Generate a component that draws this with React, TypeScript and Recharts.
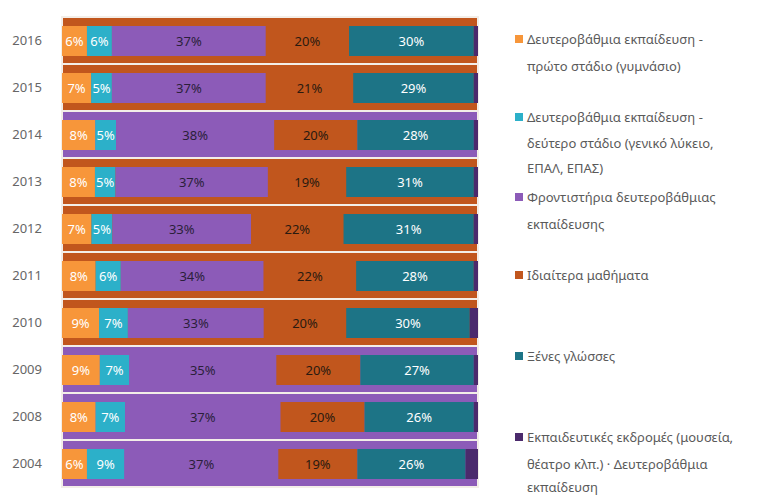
import React from 'react';
import { BarChart, Bar, XAxis, YAxis, ReferenceArea, LabelList } from 'recharts';

const years = ['2016', '2015', '2014', '2013', '2012', '2011', '2010', '2009', '2008', '2004'];
const lowerSecondary = [6, 7, 8, 8, 7, 8, 9, 9, 8, 6];
const upperSecondary = [6, 5, 5, 5, 5, 6, 7, 7, 7, 9];
const tutoring = [37, 37, 38, 37, 33, 34, 33, 35, 37, 37];
const privateLessons = [20, 21, 20, 19, 22, 22, 20, 20, 20, 19];
const languages = [30, 29, 28, 31, 31, 28, 30, 27, 26, 26];
const excursions = [1, 1, 1, 1, 1, 1, 2, 1, 1, 3];

const seriesNames = [
  'Δευτεροβάθμια εκπαίδευση - πρώτο στάδιο (γυμνάσιο)',
  'Δευτεροβάθμια εκπαίδευση - δεύτερο στάδιο (γενικό λύκειο, ΕΠΑΛ, ΕΠΑΣ)',
  'Φροντιστήρια δευτεροβάθμιας εκπαίδευσης',
  'Ιδιαίτερα μαθήματα',
  'Ξένες γλώσσες',
  'Εκπαιδευτικές εκδρομές (μουσεία, θέατρο κλπ.) · Δευτεροβάθμια εκπαίδευση',
];

const ORANGE = '#f7963a';
const CYAN = '#2cb0c9';
const PURPLE = '#8c5bb8';
const BROWN = '#c1561d';
const TEAL = '#1d7486';
const PLUM = '#4b2a6c';

// row backing tone (brown or purple) as it appears behind each bar
const rowTone = [BROWN, BROWN, PURPLE, BROWN, BROWN, BROWN, BROWN, PURPLE, PURPLE, PURPLE];

const data = years.map((year, i) => ({
  year,
  a: lowerSecondary[i],
  b: upperSecondary[i],
  c: tutoring[i],
  d: privateLessons[i],
  e: languages[i],
  f: excursions[i],
}));

const FONT = '"Noto Sans", "Open Sans", sans-serif';
const pct = (v: any) => `${v}%`;

const legendItems = [
  { color: ORANGE, top: 26, lh: [27, 27], lines: ['Δευτεροβάθμια εκπαίδευση -', 'πρώτο στάδιο (γυμνάσιο)'] },
  { color: CYAN, top: 104, lh: [27, 25, 25], lines: ['Δευτεροβάθμια εκπαίδευση -', 'δεύτερο στάδιο (γενικό λύκειο,', 'ΕΠΑΛ, ΕΠΑΣ)'] },
  { color: PURPLE, top: 184, lh: [27, 26], lines: ['Φροντιστήρια δευτεροβάθμιας', 'εκπαίδευσης'] },
  { color: BROWN, top: 262, lh: [27], lines: ['Ιδιαίτερα μαθήματα'] },
  { color: TEAL, top: 343, lh: [27], lines: ['Ξένες γλώσσες'] },
  { color: PLUM, top: 424, lh: [27, 27, 19], lines: ['Εκπαιδευτικές εκδρομές (μουσεία,', 'θέατρο κλπ.) · Δευτεροβάθμια', 'εκπαίδευση'] },
];

export default function App() {
  const labelStyle = { fontSize: 13, fontFamily: FONT };
  return (
    <div style={{ position: 'absolute', left: 0, top: 0, width: 766, height: 495, background: '#fff', overflow: 'hidden' }}>
      <BarChart
        width={500}
        height={495}
        data={data}
        layout="vertical"
        stackOffset="expand"
        barSize={30}
        margin={{ top: 17, right: 22, bottom: 8, left: 0 }}
      >
        {years.map((y, i) => (
          <ReferenceArea key={y} y1={y} y2={y} fill={rowTone[i]} fillOpacity={1} stroke="#f3eee8" strokeWidth={2} />
        ))}
        <XAxis type="number" hide domain={[0, 1]} />
        <YAxis
          type="category"
          dataKey="year"
          width={62}
          axisLine={false}
          tickLine={false}
          tickMargin={14}
          tick={{ fill: '#666', fontSize: 13, fontFamily: FONT }}
        />
        <Bar dataKey="a" name={seriesNames[0]} stackId="s" fill={ORANGE} isAnimationActive={false}>
          <LabelList dataKey="a" position="center" formatter={pct} fill="#fff" style={labelStyle} />
        </Bar>
        <Bar dataKey="b" name={seriesNames[1]} stackId="s" fill={CYAN} isAnimationActive={false}>
          <LabelList dataKey="b" position="center" formatter={pct} fill="#fff" style={labelStyle} />
        </Bar>
        <Bar dataKey="c" name={seriesNames[2]} stackId="s" fill={PURPLE} isAnimationActive={false}>
          <LabelList dataKey="c" position="center" formatter={pct} fill="#2b1f3a" style={labelStyle} />
        </Bar>
        <Bar dataKey="d" name={seriesNames[3]} stackId="s" fill={BROWN} isAnimationActive={false}>
          <LabelList dataKey="d" position="center" formatter={pct} fill="#2a1a10" style={labelStyle} />
        </Bar>
        <Bar dataKey="e" name={seriesNames[4]} stackId="s" fill={TEAL} isAnimationActive={false}>
          <LabelList dataKey="e" position="center" formatter={pct} fill="#fff" style={labelStyle} />
        </Bar>
        <Bar dataKey="f" name={seriesNames[5]} stackId="s" fill={PLUM} isAnimationActive={false} />
      </BarChart>

      {legendItems.map((it) => (
        <div
          key={it.lines[0]}
          style={{ position: 'absolute', left: 515, top: it.top, fontFamily: FONT, fontSize: 13, color: '#5a5a5a' }}
        >
          <span style={{ position: 'absolute', left: 0, top: 9, width: 8, height: 8, background: it.color }} />
          {it.lines.map((l, j) => (
            <div key={l} style={{ paddingLeft: 12, whiteSpace: 'nowrap', lineHeight: `${it.lh[j]}px` }}>{l}</div>
          ))}
        </div>
      ))}
    </div>
  );
}
